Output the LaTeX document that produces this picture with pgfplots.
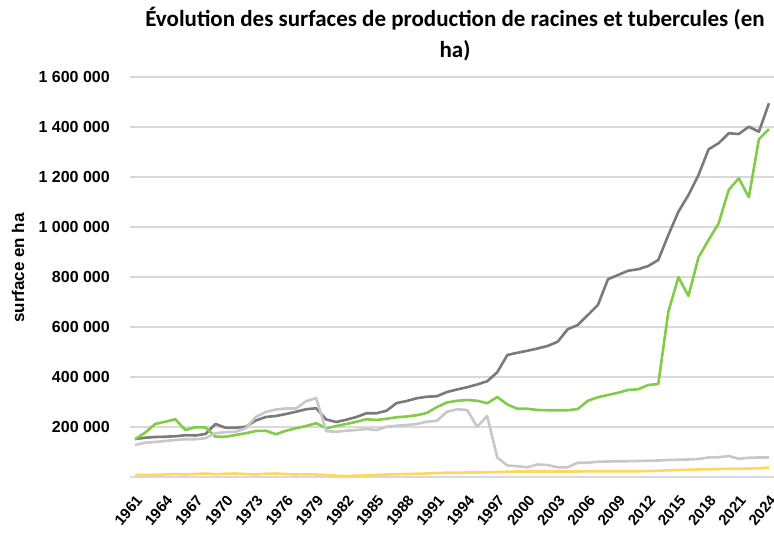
\documentclass[border=0pt]{standalone}
\usepackage{fontspec}
\setmainfont{Liberation Sans}
\newfontfamily\titlefont{Carlito}
\usepackage{pgfplots}
\usepackage{pgfplotstable}
\pgfplotsset{compat=1.18}
\definecolor{cdark}{RGB}{122,122,122}
\definecolor{cgreen}{RGB}{128,204,72}
\definecolor{clight}{RGB}{200,200,200}
\definecolor{cyellow}{RGB}{255,215,95}
\definecolor{cgrid}{RGB}{217,217,217}

\pgfplotstableread{
year D G L Y
1961 152000 151000 128000 8000
1962 157000 177000 137000 8000
1963 160000 212000 140000 9000
1964 161000 221000 144000 10000
1965 163000 231000 148000 12000
1966 167000 188000 151000 10000
1967 166000 199000 151000 12000
1968 172000 198000 155000 14000
1969 212000 161000 175000 11000
1970 197000 161000 179000 13000
1971 197000 168000 181000 14000
1972 201000 175000 195000 12000
1973 226000 184000 240000 10000
1974 240000 185000 260000 13000
1975 244000 171000 270000 14000
1976 252000 185000 274000 12000
1977 261000 195000 274000 10000
1978 271000 204000 303000 11000
1979 275000 215000 316000 10000
1980 230000 195000 183000 8000
1981 220000 204000 181000 5000
1982 229000 212000 185000 4000
1983 240000 221000 188000 5000
1984 255000 231000 192000 6000
1985 255000 228000 188000 8000
1986 265000 233000 201000 10000
1987 296000 239000 205000 11000
1988 304000 242000 208000 12000
1989 315000 247000 212000 13000
1990 321000 256000 221000 14000
1991 323000 280000 225000 16000
1992 340000 298000 261000 17000
1993 350000 305000 271000 17000
1994 359000 308000 268000 18000
1995 370000 305000 201000 18000
1996 383000 295000 244000 19000
1997 419000 320000 78000 20000
1998 488000 290000 46000 21000
1999 497000 273000 43000 22000
2000 505000 273000 39000 22000
2001 514000 268000 50000 22000
2002 524000 267000 48000 22000
2003 541000 267000 39000 22000
2004 591000 267000 39000 22000
2005 608000 272000 57000 22000
2006 648000 305000 57000 23000
2007 688000 319000 61000 23000
2008 791000 328000 62000 23000
2009 808000 337000 63000 23000
2010 825000 348000 63000 23000
2011 831000 351000 64000 23000
2012 844000 368000 65000 24000
2013 868000 372000 66000 25000
2014 968000 661000 68000 27000
2015 1061000 799000 69000 28000
2016 1128000 724000 70000 29000
2017 1208000 879000 72000 30000
2018 1311000 948000 78000 31000
2019 1335000 1015000 79000 32000
2020 1375000 1148000 84000 33000
2021 1372000 1195000 73000 33000
2022 1401000 1119000 77000 34000
2023 1381000 1351000 78000 35000
2024 1495000 1392000 78000 38000
}\data

\begin{document}
\begin{tikzpicture}[x=1pt,y=1pt]
\useasboundingbox (-130,-60) rectangle (644,477);
\begin{axis}[
  at={(0,0)}, anchor=south west,
  scale only axis, width=644pt, height=400pt,
  xmin=1960.5, xmax=2024.5, ymin=0, ymax=1600000,
  axis line style={draw=none},
  major tick length=0pt,
  ymajorgrids, grid style={cgrid, line width=1.5pt},
  ytick={0,200000,400000,600000,800000,1000000,1200000,1400000,1600000},
  yticklabels={{},{200 000},{400 000},{600 000},{800 000},{1 000 000},{1 200 000},{1 400 000},{1 600 000}},
  scaled y ticks=false,
  xtick={1961,1964,...,2024},
  /pgf/number format/assume math mode=true,
  xticklabel style={/pgf/number format/1000 sep={}, yshift=-17pt, rotate=50, anchor=north east, inner sep=0pt,
     font=\bfseries\fontsize{15}{15}\selectfont},
  yticklabel style={anchor=east, inner sep=0pt, xshift=-20pt, font=\bfseries\fontsize{16}{16}\selectfont},
  clip=false,
  every axis plot/.append style={line width=2.6pt, line join=round, no markers},
]
\addplot[cdark] table[x=year,y=D]{\data};
\addplot[cgreen] table[x=year,y=G]{\data};
\addplot[clight] table[x=year,y=L]{\data};
\addplot[cyellow] table[x=year,y=Y]{\data};
\end{axis}
\node[anchor=base, font=\titlefont\bfseries\fontsize{23}{23}\selectfont] at (325,450) {Évolution des surfaces de production de racines et tubercules (en};
\node[anchor=base, font=\titlefont\bfseries\fontsize{23}{23}\selectfont] at (325,419) {ha)};
\node[rotate=90, font=\bfseries\fontsize{17}{17}\selectfont] at (-112,209) {surface en ha};
\end{tikzpicture}
\end{document}
